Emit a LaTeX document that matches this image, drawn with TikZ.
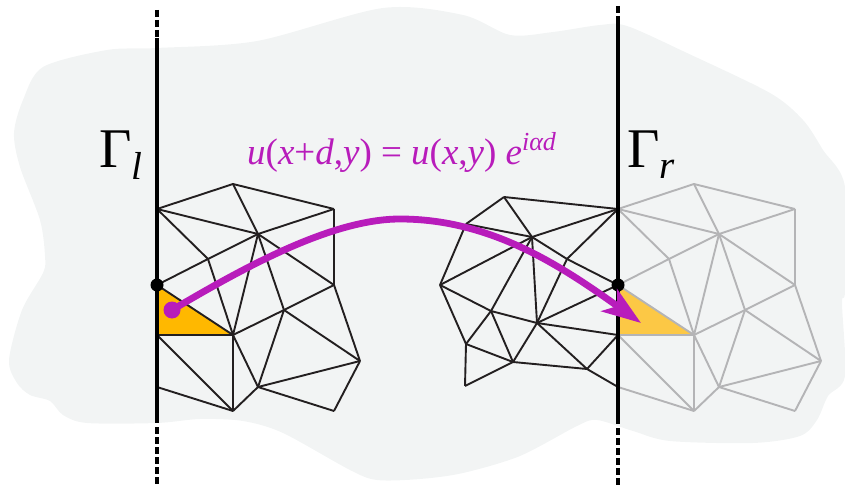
\documentclass[tikz,border=0pt]{standalone}
\usepackage{fontspec}
\setmainfont{Liberation Serif}
\usetikzlibrary{arrows.meta}

\definecolor{blobgrey}{HTML}{F2F4F4}
\definecolor{meshblack}{HTML}{231F20}
\definecolor{meshgrey}{HTML}{B4B4B6}
\definecolor{cellleft}{HTML}{FFB800}
\definecolor{cellright}{HTML}{FCC845}
\definecolor{jump}{HTML}{B81CBB}

\tikzset{
  edge/.style={line width=1.9pt},
  wall/.style={line width=3.6pt,black},
  walldash/.style={wall,dash pattern=on 7pt off 3pt},
  label/.style={inner sep=0pt,anchor=base west},
}

\newcommand{\meshpoints}{
  \foreach \n/\x/\y in {A/157/209,B/233/184,C/334/209,D/258/234,E/208/259,
    F/334/285,G/157/285,H/284/310,I/233/335,J/157/335,K/360/361,
    L/258/387,M/157/387,N/233/411,O/334/411}
    \coordinate (\n) at (\x,\y);
}
\newcommand{\meshedges}[1]{
  \foreach \a/\b in {A/B,B/C,A/D,D/C,B/D,A/E,G/E,E/D,E/I,D/I,D/H,D/F,C/F,F/H,
    H/I,G/I,I/J,J/N,M/N,I/N,I/L,H/L,H/K,F/K,L/K,L/N,L/O,O/K}
    \draw[edge,#1] (\a) -- (\b);
}

\begin{document}
\begin{tikzpicture}[x=1pt,y=-1pt]
\useasboundingbox (0,0) rectangle (845,486);

% background
\fill[blobgrey] plot[smooth cycle,tension=0.5] coordinates {
  (43,67) (107,50) (157,48) (257,41) (383,8) (463,15) (510,35) (553,32)
  (600,25) (627,26) (687,53) (770,93) (803,120) (823,150) (845,187) (845,290)
  (842,303) (845,376) (828,396) (817,420) (800,436) (753,443) (670,441)
  (633,431) (597,420) (577,426) (520,456) (463,473) (420,479) (377,480)
  (350,470) (283,433) (243,421) (200,419) (157,423) (87,423) (63,415)
  (50,401) (30,395) (17,383) (9,360) (22,310) (43,273) (45,256) (40,220)
  (20,167) (14,133) (23,100)};

% left mesh
\meshpoints
\fill[cellleft] (G) -- (I) -- (J) -- cycle;
\meshedges{meshblack}

% right mesh
\begin{scope}[xshift=461pt,name prefix=r]
\meshpoints
\fill[cellright] (G) -- (I) -- (J) -- cycle;
\meshedges{meshgrey}
\end{scope}

% middle mesh
\foreach \n/\x/\y in {a/504/197,c/466/224,d/532/237,e/567/259,g/440/285,
  h/491/311,i/537/323,k/466/344,l/513/362,m/587/369,n/465/386}
  \coordinate (\n) at (\x,\y);
\foreach \a/\b in {a/rA,a/c,a/d,c/d,d/rA,rA/e,e/i,d/e,e/rG,c/g,g/d,g/h,h/i,i/rJ,
  g/k,k/h,h/d,d/i,i/rG,h/l,i/l,k/l,k/n,n/l,l/m,i/m,m/rJ,m/rM}
  \draw[edge,meshblack] (\a) -- (\b);

% boundaries
\coordinate (ltop) at (157,10);
\coordinate (lup) at (157,38);
\coordinate (llow) at (157,423);
\coordinate (lbot) at (157,484);
\coordinate (rtop) at (618,6);
\coordinate (rup) at (618,20);
\coordinate (rlow) at (618,424);
\coordinate (rbot) at (618,486);
\draw[wall] (lup) -- (llow);
\draw[wall] (rup) -- (rlow);
\draw[walldash] (ltop) -- (lup);
\draw[walldash] (llow) ++(0,4) -- (lbot);
\draw[walldash] (rtop) -- (rup);
\draw[walldash] (rlow) ++(0,4) -- (rbot);
\fill[black] (G) circle (6.5pt);
\fill[black] (rG) circle (6.5pt);

% labels
\node[label,font=\fontsize{56}{56}\selectfont] (gammal) at (99,168)
  {Γ\raisebox{-12pt}{\fontsize{39}{39}\selectfont\itshape l}};
\node[label,font=\fontsize{56}{56}\selectfont] (gammar) at (627,168)
  {Γ\raisebox{-11pt}{\fontsize{39}{39}\selectfont\itshape r}};
\node[label,jump,font=\fontsize{37}{37}\selectfont] (bloch) at (247,165)
  {\textit{u}(\textit{x}+\textit{d},\textit{y}) = \textit{u}(\textit{x},\textit{y}) \textit{e}\raisebox{14pt}{\fontsize{26}{26}\selectfont\itshape iαd}};

% jump
\node[circle,fill=jump,inner sep=0pt,minimum size=17pt] (p) at (172,310) {};
\coordinate (mid) at (400,219);
\coordinate (tip) at (641,323);
\draw[jump,line width=6.8pt,-{Stealth[length=39pt,width=27pt,inset=10pt]}]
  (p.center) .. controls (240,270) and (330,219) .. (mid)
  .. controls (490,219) and (560,265) .. (tip);
\end{tikzpicture}
\end{document}
